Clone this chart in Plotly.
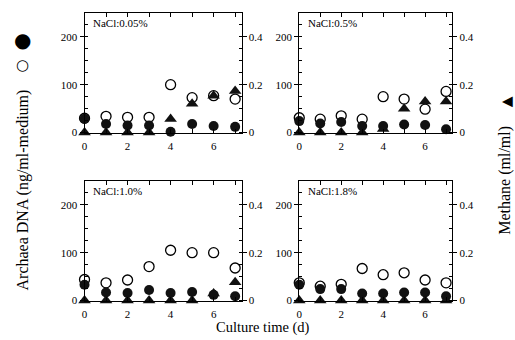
import plotly.graph_objects as go

days = [0, 1, 2, 3, 4, 5, 6, 7]
panel_labels = ["NaCl:0.05%", "NaCl:0.5%", "NaCl:1.0%", "NaCl:1.8%"]

# Archaea DNA (ng/ml-medium), filled circles
dna_filled_005 = [29, 18, 15, 15, 2, 18, 14, 12]
dna_filled_05 = [24, 19, 22, 14, 14, 17, 16, 7]
dna_filled_10 = [33, 17, 16, 22, 16, 18, 12, 9]
dna_filled_18 = [33, 24, 24, 15, 15, 17, 17, 9]

# Archaea DNA (ng/ml-medium), open circles
dna_open_005 = [30, 34, 32, 32, 100, 73, 77, 70]
dna_open_05 = [31, 28, 35, 28, 75, 70, 49, 86]
dna_open_10 = [44, 37, 43, 71, 105, 100, 100, 68]
dna_open_18 = [37, 30, 34, 67, 54, 58, 43, 37]

# Methane (ml/ml), triangles
methane_005 = [0, 0, 0, 0, 0.057, 0.12, 0.154, 0.174]
methane_05 = [0, 0, 0, 0, 0.015, 0.10, 0.13, 0.13]
methane_10 = [0, 0, 0, 0, 0, 0, 0.03, 0.077]
methane_18 = [0, 0, 0, 0, 0, 0, 0, 0]

filled = [dna_filled_005, dna_filled_05, dna_filled_10, dna_filled_18]
opened = [dna_open_005, dna_open_05, dna_open_10, dna_open_18]
methane = [methane_005, methane_05, methane_10, methane_18]

W, H = 515, 340
# panel pixel boxes (left, right, top, bottom)
boxes = [(82, 240, 13, 135), (298, 452, 13, 135), (82, 240, 184, 306), (298, 452, 184, 306)]

FONT = "Liberation Serif"
fig = go.Figure()
layout = {}
for i in range(4):
    xa = f"x{i+1}" if i else "x"
    yl = f"y{2*i+1}" if i else "y"
    yr = f"y{2*i+2}"
    fig.add_trace(go.Scatter(x=days, y=opened[i], mode="markers", xaxis=xa, yaxis=yl,
                             marker=dict(symbol="circle-open", size=10, color="black",
                                         line=dict(width=1.3, color="black")),
                             cliponaxis=False, showlegend=False))
    fig.add_trace(go.Scatter(x=days, y=filled[i], mode="markers", xaxis=xa, yaxis=yl,
                             marker=dict(symbol="circle", size=10, color="#111"),
                             cliponaxis=False, showlegend=False))
    fig.add_trace(go.Scatter(x=days, y=methane[i], mode="markers", xaxis=xa, yaxis=yr,
                             marker=dict(symbol="triangle-up", size=11, color="#111"),
                             cliponaxis=False, showlegend=False))

    l, r, t, b = boxes[i]
    xkey = "xaxis" if i == 0 else f"xaxis{i+1}"
    ylkey = "yaxis" if i == 0 else f"yaxis{2*i+1}"
    yrkey = f"yaxis{2*i+2}"
    layout[xkey] = dict(domain=[l / W, r / W], anchor=yl, range=[0, 7.3],
                        tickvals=[0, 2, 4, 6], ticks="inside", ticklen=4, ticklabelstandoff=3,
                        minor=dict(tickvals=[1, 3, 5, 7], ticks="inside", ticklen=4, tickcolor="black"),
                        showline=True, linecolor="black", linewidth=1, mirror="ticks",
                        showgrid=False, zeroline=False, tickcolor="black",
                        tickfont=dict(family=FONT, size=11, color="black"))
    layout[ylkey] = dict(domain=[1 - b / H, 1 - t / H], anchor=xa, range=[0, 250],
                         tickvals=[0, 100, 200], ticks="outside", ticklen=4,
                         minor=dict(dtick=25, ticks="inside", ticklen=3, tickcolor="black"),
                         showline=True, linecolor="black", linewidth=1,
                         showgrid=False, zeroline=False, tickcolor="black",
                         tickfont=dict(family=FONT, size=11, color="black"))
    layout[yrkey] = dict(overlaying=yl, side="right", anchor=xa, range=[0, 0.5],
                         tickvals=[0, 0.2, 0.4], ticktext=["0", "0.2", "0.4"], ticks="outside", ticklen=4,
                         minor=dict(dtick=0.05, ticks="inside", ticklen=3, tickcolor="black"),
                         showline=True, linecolor="black", linewidth=1,
                         showgrid=False, zeroline=False, tickcolor="black",
                         tickfont=dict(family=FONT, size=11, color="black"))

def ann(x, y, text, size, family=FONT, angle=0, xanchor="center", yanchor="middle"):
    return dict(x=x / W, y=1 - y / H, xref="paper", yref="paper", text=text, textangle=angle,
                showarrow=False, xanchor=xanchor, yanchor=yanchor,
                font=dict(family=family, size=size, color="black"))

annotations = []
for i in range(4):
    l, r, t, b = boxes[i]
    annotations.append(ann(l + 7, t + 2, panel_labels[i], 11, xanchor="left", yanchor="top"))
annotations += [
    ann(20, 193, "Archaea DNA (ng/ml-medium)", 16, angle=-90),
    ann(20, 66, "○", 15, family="DejaVu Sans"),
    ann(20, 41, "●", 20, family="DejaVu Sans"),
    ann(505, 184, "Methane (ml/ml)", 16, angle=-90),
    ann(506, 104, "▲", 14, family="DejaVu Sans", angle=-90),
    ann(262, 333, "Culture time (d)", 14.5),
]

fig.update_layout(width=W, height=H, margin=dict(l=0, r=0, t=0, b=0),
                  paper_bgcolor="white", plot_bgcolor="white",
                  annotations=annotations, **layout)
fig.write_html("out.html", config={"displayModeBar": False},
               post_script="document.body.style.margin='0';")
